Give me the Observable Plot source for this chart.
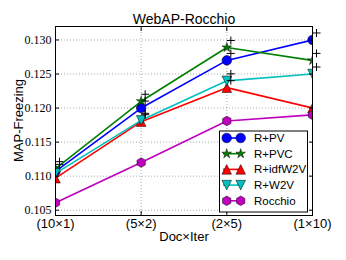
<!DOCTYPE html>
<html><head><meta charset="utf-8">
<script src="https://cdn.jsdelivr.net/npm/d3@7"></script>
<script src="https://cdn.jsdelivr.net/npm/@observablehq/plot@0.6"></script>
<style>body{margin:0;background:#fff}</style>
</head><body><div id="chart"></div>
<script>
const title = "WebAP-Rocchio";
const xLabel = "Doc×Iter";
const yLabel = "MAP-Freezing";
const categories = ["(10×1)", "(5×2)", "(2×5)", "(1×10)"];
const seriesNames = ["R+PV", "R+PVC", "R+idfW2V", "R+W2V", "Rocchio"];
const rPV      = [0.1107, 0.1200, 0.1270, 0.1300];
const rPVC     = [0.1111, 0.1210, 0.1289, 0.1270];
const rIdfW2V  = [0.1097, 0.1180, 0.1230, 0.1200];
const rW2V     = [0.1104, 0.1182, 0.1240, 0.1250];
const rocchio  = [0.1061, 0.1120, 0.1181, 0.1190];
// significance "+" flags per point
const sigPV     = [1, 1, 1, 1];
const sigPVC    = [1, 1, 1, 1];
const sigIdfW2V = [0, 1, 1, 0];
const sigW2V    = [0, 1, 1, 1];
const sigRocchio= [0, 0, 0, 0];
const yTickValues = [0.105, 0.110, 0.115, 0.120, 0.125, 0.130];

const allValues = [rPV, rPVC, rIdfW2V, rW2V, rocchio];
const allSig = [sigPV, sigPVC, sigIdfW2V, sigW2V, sigRocchio];
const colors = ["#0000ff", "#008000", "#ff0000", "#00bfbf", "#bf00bf"];

function poly(pts) {
  return {draw(ctx, size) {
    const R = Math.sqrt(size / Math.PI);
    pts.forEach(([x, y], i) => i ? ctx.lineTo(x * R, y * R) : ctx.moveTo(x * R, y * R));
    ctx.closePath();
  }};
}
const circleSym = {draw(ctx, size) { const R = Math.sqrt(size / Math.PI); ctx.moveTo(R, 0); ctx.arc(0, 0, R, 0, 2 * Math.PI); ctx.closePath(); }};
const starPts = d3.range(10).map(i => { const r = i % 2 ? 0.381966 : 1.05; const a = i * Math.PI / 5; return [r * Math.sin(a), -r * Math.cos(a)]; });
const starSym = poly(starPts);
const triUp = poly([[0, -1], [-1, 1], [1, 1]]);
const triDown = poly([[0, 1], [-1, -1], [1, -1]]);
const hexSym = poly(d3.range(6).map(i => { const a = i * Math.PI / 3; return [Math.sin(a), -Math.cos(a)]; }));
const plusSym = {draw(ctx, size) { const R = Math.sqrt(size / Math.PI); ctx.moveTo(-R, 0); ctx.lineTo(R, 0); ctx.moveTo(0, -R); ctx.lineTo(0, R); }};
const symbols = [circleSym, starSym, triUp, triDown, hexSym];

const rows = seriesNames.map((s, k) => allValues[k].map((v, i) => ({series: s, xi: i, value: v, sig: allSig[k][i]})));
const sigRows = rows.flat().filter(d => d.sig);

const marks = [
  Plot.gridY(yTickValues, {stroke: "#000", strokeOpacity: 0.55, strokeDasharray: "1,2", strokeWidth: 0.6}),
  Plot.gridX([1, 2], {stroke: "#000", strokeOpacity: 0.55, strokeDasharray: "1,2", strokeWidth: 0.6}),
];
rows.forEach((r, k) => {
  marks.push(Plot.line(r, {x: "xi", y: "value", stroke: colors[k], strokeWidth: 1.6, clip: true}));
  marks.push(Plot.dot(r, {x: "xi", y: "value", symbol: symbols[k], r: 4.8, fill: colors[k], stroke: "#000", strokeWidth: 0.5, clip: true}));
});
marks.push(
  Plot.frame({stroke: "#000", strokeWidth: 1}),
  Plot.dot(sigRows, {x: "xi", y: "value", symbol: plusSym, r: 4, fill: "none", stroke: "#000", strokeWidth: 1, dx: 4, dy: -7}),
  Plot.axisY({ticks: yTickValues, tickFormat: d3.format(".3f"), tickSize: 0, tickPadding: 4, fontFamily: "Liberation Serif", fontSize: 12, label: null}),
  Plot.axisY({ticks: yTickValues, tickSize: -4, tickFormat: () => "", label: null}),
  Plot.axisY({anchor: "right", ticks: yTickValues, tickSize: -4, tickFormat: () => "", label: null}),
  Plot.axisX({ticks: [0, 1, 2, 3], tickFormat: i => categories[i], tickSize: 0, tickPadding: 3, fontFamily: "Liberation Sans", fontSize: 13, label: null}),
  Plot.axisX({ticks: [0, 1, 2, 3], tickSize: -4, tickFormat: () => "", label: null}),
  Plot.axisX({anchor: "top", ticks: [0, 1, 2, 3], tickSize: -4, tickFormat: () => "", label: null}),
  Plot.text([title], {frameAnchor: "top", dy: -12, text: d => d, fontSize: 14, fontFamily: "Liberation Sans", fill: "#000"}),
  Plot.text([xLabel], {frameAnchor: "bottom", dy: 25, text: d => d, fontSize: 13, fontFamily: "Liberation Sans", fill: "#000"})
);

const chart = Plot.plot({
  width: 346, height: 260,
  marginLeft: 55, marginRight: 34, marginTop: 26, marginBottom: 45,
  style: {fontFamily: "Liberation Sans", color: "#000", background: "#fff"},
  x: {domain: [0, 3]},
  y: {domain: [0.10422, 0.13198]},
  marks
});

const xr = chart.scale("x").range, yr = chart.scale("y").range;
const frameLeft = Math.min(...xr), frameRight = Math.max(...xr);
const frameTop = Math.min(...yr), frameBottom = Math.max(...yr);
const svg = d3.select(chart);
svg.selectAll('g[aria-label="y-axis tick label"] text').attr("font-family", "Liberation Serif");
svg.selectAll('g[aria-label="y-axis tick label"]').attr("font-family", "Liberation Serif");

// y label
svg.append("text")
  .attr("transform", `translate(${frameLeft - 37},${(frameTop + frameBottom) / 2}) rotate(-90)`)
  .attr("text-anchor", "middle").attr("dy", "0.35em")
  .attr("font-size", 13).attr("font-family", "Liberation Sans").attr("fill", "#000")
  .text(yLabel);

// legend
const bw = 88, bh = 81;
const bx = frameRight - 5 - bw, by = frameBottom - 3.5 - bh;
const lg = svg.append("g").attr("transform", `translate(${bx},${by})`);
lg.append("rect").attr("x", 0.5).attr("y", 0.5).attr("width", bw).attr("height", bh).attr("fill", "#fff").attr("stroke", "#000").attr("stroke-width", 1);
seriesNames.forEach((s, k) => {
  const cy = 7.5 + 15.7 * k;
  const g = lg.append("g");
  g.append("line").attr("x1", 4).attr("x2", 24).attr("y1", cy).attr("y2", cy).attr("stroke", colors[k]).attr("stroke-width", 1.6);
  [7.7, 21.7].forEach(mx => {
    const p = d3.path(); symbols[k].draw(p, 4.8 * 4.8 * Math.PI);
    g.append("path").attr("d", p.toString()).attr("transform", `translate(${mx},${cy})`).attr("fill", colors[k]).attr("stroke", "#000").attr("stroke-width", 0.5);
  });
  g.append("text").attr("x", 35).attr("y", cy).attr("dy", "0.35em").attr("text-anchor", "start").attr("font-size", 11.5).attr("font-family", "Liberation Sans").attr("fill", "#000").text(s);
});

document.getElementById("chart").appendChild(chart);
</script>
</body></html>
